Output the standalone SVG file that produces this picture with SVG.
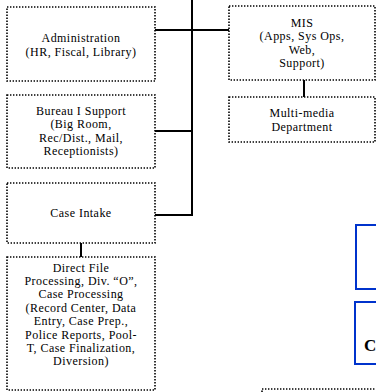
<svg xmlns="http://www.w3.org/2000/svg" width="376" height="392" viewBox="0 0 376 392">
  <style>
    .box { fill: #ffffff; stroke: #000000; stroke-width: 1.6; stroke-dasharray: 1.4 1.6; }
    .blue { fill: #ffffff; stroke: #0033cc; stroke-width: 2; }
    .lbl { font-family: "Liberation Serif", "Times New Roman", "DejaVu Serif", serif; font-size: 12px; letter-spacing: 0.45px; fill: #000000; text-anchor: middle; }
    .big { font-family: "Liberation Serif", "Times New Roman", "DejaVu Serif", serif; font-size: 17px; font-weight: bold; fill: #000000; }
    .wire { stroke: #000000; stroke-width: 2; fill: none; }
  </style>
  <rect width="376" height="392" fill="#ffffff"/>

  <!-- connectors -->
  <g id="connectors">
    <line class="wire" x1="192" y1="0" x2="192" y2="216"/>
    <line class="wire" x1="155" y1="30" x2="229" y2="30"/>
    <line class="wire" x1="155" y1="131" x2="192" y2="131"/>
    <line class="wire" x1="155" y1="215" x2="193" y2="215"/>
    <line class="wire" x1="304" y1="80" x2="304" y2="97"/>
    <line class="wire" x1="81" y1="243" x2="81" y2="257"/>
  </g>

  <g id="administration">
    <rect class="box" x="7" y="7" width="148" height="74"/>
    <text class="lbl" x="81" y="42">Administration</text>
    <text class="lbl" x="81" y="56">(HR, Fiscal, Library)</text>
  </g>

  <g id="mis">
    <rect class="box" x="229" y="6" width="146" height="74"/>
    <text class="lbl" x="302" y="27">MIS</text>
    <text class="lbl" x="302" y="40.4">(Apps, Sys Ops,</text>
    <text class="lbl" x="302" y="53.8">Web,</text>
    <text class="lbl" x="302" y="67.2">Support)</text>
  </g>

  <g id="multimedia">
    <rect class="box" x="229" y="97" width="146" height="45"/>
    <text class="lbl" x="302" y="117">Multi-media</text>
    <text class="lbl" x="302" y="131">Department</text>
  </g>

  <g id="bureau-support">
    <rect class="box" x="7" y="95" width="148" height="73"/>
    <text class="lbl" x="81" y="115">Bureau I Support</text>
    <text class="lbl" x="81" y="128.4">(Big Room,</text>
    <text class="lbl" x="81" y="141.8">Rec/Dist., Mail,</text>
    <text class="lbl" x="81" y="155.2">Receptionists)</text>
  </g>

  <g id="case-intake">
    <rect class="box" x="7" y="183" width="148" height="60"/>
    <text class="lbl" x="81" y="217">Case Intake</text>
  </g>

  <g id="direct-file">
    <rect class="box" x="7" y="257" width="148" height="133"/>
    <text class="lbl" x="81" y="271.6">Direct File</text>
    <text class="lbl" x="81" y="285">Processing, Div. “O”,</text>
    <text class="lbl" x="81" y="298.4">Case Processing</text>
    <text class="lbl" x="81" y="311.8">(Record Center, Data</text>
    <text class="lbl" x="81" y="325.2">Entry, Case Prep.,</text>
    <text class="lbl" x="81" y="338.6">Police Reports, Pool-</text>
    <text class="lbl" x="81" y="352">T, Case Finalization,</text>
    <text class="lbl" x="81" y="365.4">Diversion)</text>
  </g>

  <g id="blue-box-1">
    <rect class="blue" x="356" y="225" width="30" height="64"/>
  </g>

  <g id="blue-box-2">
    <rect class="blue" x="355" y="302" width="31" height="62"/>
    <text class="big" x="364" y="351">C</text>
  </g>

  <g id="bottom-box">
    <rect class="box" x="262" y="389" width="130" height="20"/>
  </g>
</svg>
